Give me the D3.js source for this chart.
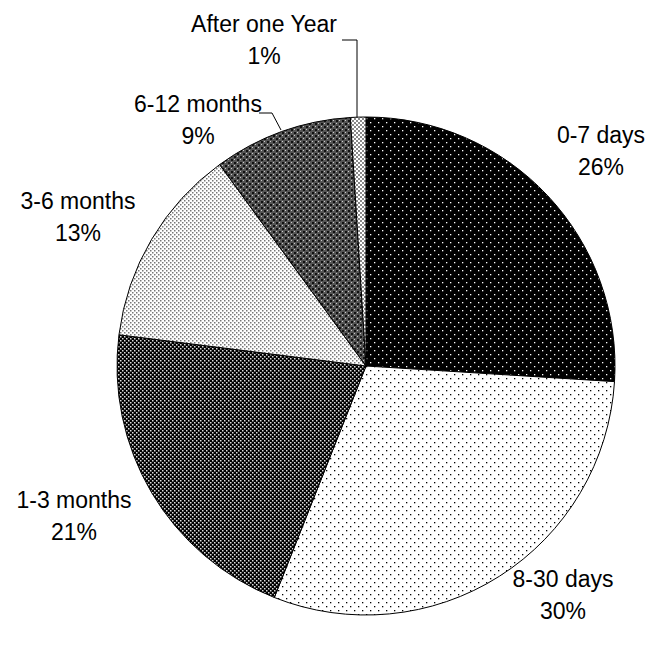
<!DOCTYPE html>
<html><head><meta charset="utf-8">
<script src="https://cdn.jsdelivr.net/npm/d3@7"></script>
<style>body{margin:0;background:#fff}</style>
</head><body>
<svg id="c" width="658" height="648"></svg>
<script>
const categories = ["0-7 days","8-30 days","1-3 months","3-6 months","6-12 months","After one Year"];
const values = [26,30,21,13,9,1];
const labels = ["26%","30%","21%","13%","9%","1%"];

const W=658,H=648,cx=366,cy=366,R=249;
const svg=d3.select("#c");
const defs=svg.append("defs");
function dots(id,bg,fg,step,r,offset){
  const p=defs.append("pattern").attr("id",id).attr("patternUnits","userSpaceOnUse").attr("width",step).attr("height",step);
  p.append("rect").attr("width",step).attr("height",step).attr("fill",bg);
  p.append("rect").attr("x",0).attr("y",0).attr("width",r).attr("height",r).attr("fill",fg);
  if(offset) p.append("rect").attr("x",step/2).attr("y",step/2).attr("width",r).attr("height",r).attr("fill",fg);
}
dots("p0","#000","#fff",8,1.3,true);
dots("p1","#fff","#000",8,1.3,true);
dots("p2","#000","#ddd",4,1.5,true);
dots("p3","#fff","#777",4,1.5,true);
(function(){
  const p=defs.append("pattern").attr("id","p4").attr("patternUnits","userSpaceOnUse").attr("width",6).attr("height",6);
  p.append("rect").attr("width",6).attr("height",6).attr("fill","#555");
  p.append("rect").attr("x",0).attr("y",0).attr("width",2).attr("height",2).attr("fill","#111");
  p.append("rect").attr("x",3).attr("y",3).attr("width",2).attr("height",2).attr("fill","#111");
  p.append("rect").attr("x",3).attr("y",0).attr("width",1).attr("height",1).attr("fill","#ccc");
  p.append("rect").attr("x",0).attr("y",3).attr("width",1).attr("height",1).attr("fill","#ccc");
  const q=defs.append("pattern").attr("id","p5").attr("patternUnits","userSpaceOnUse").attr("width",4).attr("height",4);
  q.append("rect").attr("width",4).attr("height",4).attr("fill","#fff");
  q.append("rect").attr("x",0).attr("y",0).attr("width",2).attr("height",2).attr("fill","#888");
  q.append("rect").attr("x",2).attr("y",2).attr("width",2).attr("height",2).attr("fill","#888");
})();
const fills=["url(#p0)","url(#p1)","url(#p2)","url(#p3)","url(#p4)","url(#p5)"];

const pie=d3.pie().sort(null).value(d=>d)(values);
const arc=d3.arc().innerRadius(0).outerRadius(R);
const g=svg.append("g").attr("transform",`translate(${cx},${cy})`);
g.selectAll("path").data(pie).join("path").attr("d",arc)
  .attr("fill",(d,i)=>fills[i]).attr("stroke","#000").attr("stroke-width",1);

const labelPos=[[601,143],[563,587],[74,508],[78,209],[198,112],[264,32]];
const t=svg.append("g").attr("font-family","Liberation Sans, Arial, sans-serif").attr("font-size",23).attr("fill","#000").attr("text-anchor","middle");
categories.forEach((c,i)=>{
  const [x,y]=labelPos[i];
  t.append("text").attr("x",x).attr("y",y).text(c);
  t.append("text").attr("x",x).attr("y",y+32).text(labels[i]);
});
svg.append("polyline").attr("points","259,113 272,113 281,130").attr("fill","none").attr("stroke","#000").attr("stroke-width",1);
svg.append("polyline").attr("points","342,40 357,40 357,117").attr("fill","none").attr("stroke","#000").attr("stroke-width",1);
</script>
</body></html>
